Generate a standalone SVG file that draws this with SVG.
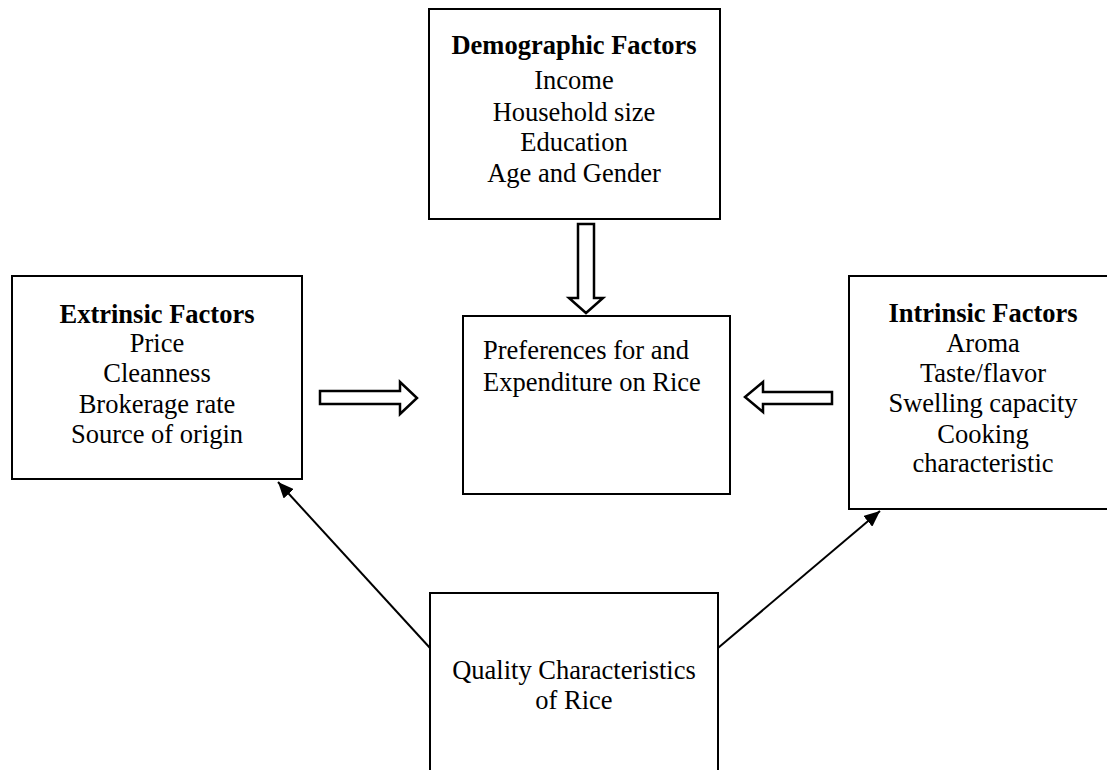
<svg xmlns="http://www.w3.org/2000/svg" width="1107" height="770" viewBox="0 0 1107 770">
<style>
.box{fill:#fff;stroke:#000;stroke-width:2}
.t{font-family:"Liberation Serif","Times New Roman",serif;font-size:26.5px;fill:#000;text-anchor:middle}
.b{font-weight:bold}
.blk{fill:#fff;stroke:#000;stroke-width:2.5;stroke-linejoin:miter}
.ln{stroke:#000;stroke-width:2;fill:none}
</style>
<defs>
<marker id="ah" viewBox="0 0 16 14" refX="16" refY="7" markerWidth="16" markerHeight="14" markerUnits="userSpaceOnUse" orient="auto">
<path d="M0,0 L16,7 L0,14 z" fill="#000"/>
</marker>
</defs>
<rect width="1107" height="770" fill="#fff"/>
<g id="demographic">
<rect class="box" x="429" y="9" width="291" height="210"/>
<text class="t b" x="574" y="54">Demographic Factors</text>
<text class="t" x="574" y="89">Income</text>
<text class="t" x="574" y="121">Household size</text>
<text class="t" x="574" y="151">Education</text>
<text class="t" x="574" y="182">Age and Gender</text>
</g>
<g id="extrinsic">
<rect class="box" x="12" y="276" width="290" height="203"/>
<text class="t b" x="157" y="323">Extrinsic Factors</text>
<text class="t" x="157" y="352">Price</text>
<text class="t" x="157" y="382">Cleanness</text>
<text class="t" x="157" y="413">Brokerage rate</text>
<text class="t" x="157" y="443">Source of origin</text>
</g>
<g id="preferences">
<rect class="box" x="463" y="316" width="267" height="178"/>
<text class="t" x="483" y="359" style="text-anchor:start">Preferences for and</text>
<text class="t" x="483" y="391" style="text-anchor:start">Expenditure on Rice</text>
</g>
<g id="intrinsic">
<rect class="box" x="849" y="276" width="270" height="233"/>
<text class="t b" x="983" y="322">Intrinsic Factors</text>
<text class="t" x="983" y="352">Aroma</text>
<text class="t" x="983" y="382">Taste/flavor</text>
<text class="t" x="983" y="412">Swelling capacity</text>
<text class="t" x="983" y="443">Cooking</text>
<text class="t" x="983" y="472">characteristic</text>
</g>
<g id="quality">
<rect class="box" x="430" y="593" width="288" height="190"/>
<text class="t" x="574" y="679">Quality Characteristics</text>
<text class="t" x="574" y="709">of Rice</text>
</g>
<g id="connectors">
<path class="blk" d="M578,224 L594,224 L594,298 L603,298 L586,313 L569,298 L578,298 Z"/>
<path class="blk" d="M320,391 L400,391 L400,382 L417,398 L400,414 L400,404 L320,404 Z"/>
<path class="blk" d="M832,392 L763,392 L763,382 L745,397 L763,412 L763,404 L832,404 Z"/>
<line class="ln" x1="430" y1="648" x2="278" y2="482" marker-end="url(#ah)"/>
<line class="ln" x1="718" y1="648" x2="880" y2="511" marker-end="url(#ah)"/>
</g>
</svg>
